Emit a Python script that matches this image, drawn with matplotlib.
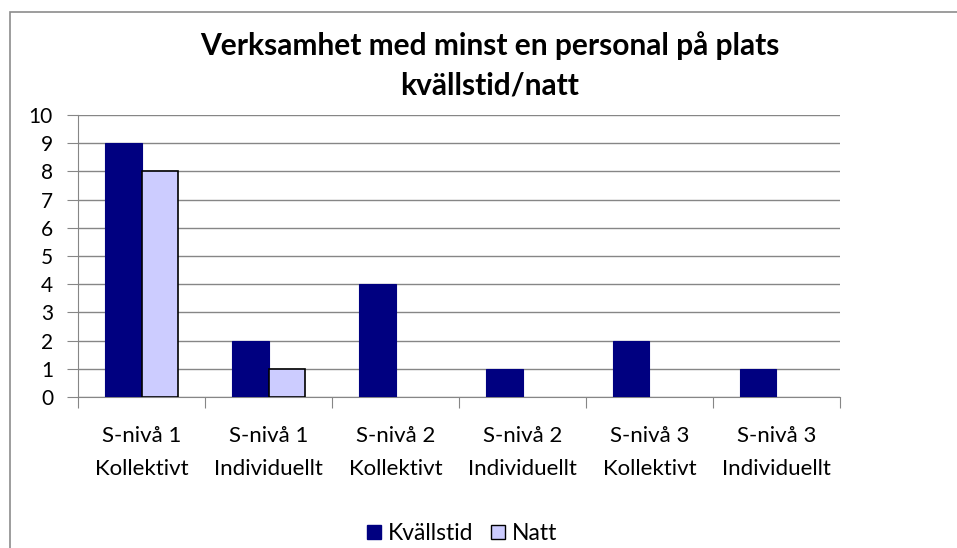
import matplotlib.pyplot as plt
import numpy as np
from matplotlib.patches import Rectangle
from matplotlib.lines import Line2D

plt.rcParams['font.family'] = ['Lato', 'DejaVu Sans']

# Data
categories = ['S-nivå 1\nKollektivt', 'S-nivå 1\nIndividuellt', 'S-nivå 2\nKollektivt',
              'S-nivå 2\nIndividuellt', 'S-nivå 3\nKollektivt', 'S-nivå 3\nIndividuellt']
kvallstid = [9, 2, 4, 1, 2, 1]
natt = [8, 1, 0, 0, 0, 0]

dark = '#000080'
light = '#CCCCFF'

fig = plt.figure(figsize=(9.57, 5.48), dpi=100)
ax = fig.add_axes([78 / 957, 1 - 397 / 548, (840 - 78) / 957, (397 - 115) / 548])

# ram runt diagrammet (vänster och överkant syns)
fig.patches.append(Rectangle((10 / 957, -0.1), 1.2, 1 - 12 / 548 + 0.1, transform=fig.transFigure,
                             fill=False, edgecolor='#8c8c8c', linewidth=1.2))

x = np.arange(len(categories)) + 0.5
w = 1 / 3.5
ax.bar(x - w / 2, kvallstid, w, color=dark, edgecolor=dark, linewidth=0.8, zorder=3)
natt_vals = np.array(natt)
mask = natt_vals > 0
ax.bar(x[mask] + w / 2, natt_vals[mask], w, color=light, edgecolor='black', linewidth=1.2, zorder=3)

ax.set_xlim(0, 6)
ax.set_ylim(0, 10)
ax.set_yticks(range(0, 11))
ax.yaxis.grid(True, color='#868686', linewidth=1)
ax.set_axisbelow(True)

ax.set_xticks(range(0, 7))
ax.set_xticklabels([])
ax.set_xticks(x, minor=True)
ax.set_xticklabels(categories, minor=True, fontsize=16, linespacing=1.8)
ax.tick_params(axis='x', which='major', length=8, color='#868686', direction='out')
ax.tick_params(axis='x', which='minor', length=0, pad=21)
ax.tick_params(axis='y', length=8, color='#868686', labelsize=15, pad=10)

for s in ['top', 'right']:
    ax.spines[s].set_visible(False)
ax.spines['left'].set_color('#868686')
ax.spines['bottom'].set_color('#868686')

fig.text(490 / 957, 1 - 55 / 548, 'Verksamhet med minst en personal på plats', ha='center', va='baseline',
         fontsize=21.5, fontweight='bold')
fig.text(490 / 957, 1 - 95 / 548, 'kvällstid/natt', ha='center', va='baseline',
         fontsize=21.5, fontweight='bold')

handles = [Line2D([], [], marker='s', linestyle='none', markersize=10.5, markerfacecolor=dark, markeredgecolor=dark),
           Line2D([], [], marker='s', linestyle='none', markersize=10.5, markerfacecolor=light, markeredgecolor='black')]
fig.legend(handles, ['Kvällstid', 'Natt'], loc='center', bbox_to_anchor=(461 / 957, 1 - 534 / 548),
           ncol=2, frameon=False, fontsize=16.5, handletextpad=0.2, columnspacing=0.7, handlelength=0.8,
           borderpad=0)

fig.savefig('out.png', dpi=100)
